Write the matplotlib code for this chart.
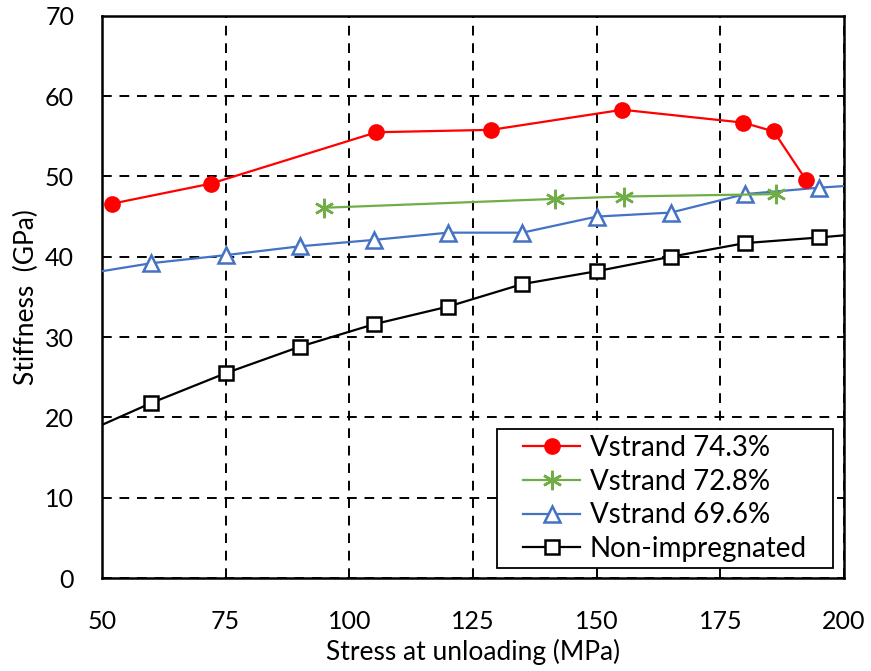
import matplotlib
matplotlib.use("Agg")
import matplotlib.pyplot as plt
from matplotlib.patches import Rectangle

plt.rcParams['font.family'] = ['Lato', 'DejaVu Sans']

# stress at unloading (MPa) / stiffness (GPa)
x_743 = [52, 72, 105.5, 128.7, 155.2, 179.6, 185.8, 192.4]
y_743 = [46.6, 49.1, 55.5, 55.8, 58.3, 56.7, 55.6, 49.5]

x_728 = [94.9, 141.5, 155.5, 186.2]
y_728 = [46.1, 47.2, 47.5, 47.8]

# first and last points lie outside the axis range (clipped)
x_696 = [45, 60, 75, 90, 105, 120, 135, 150, 165, 180, 195, 210]
y_696 = [37.7, 39.2, 40.2, 41.3, 42.1, 43.0, 43.0, 45.0, 45.5, 47.8, 48.6, 49.2]

x_non = [45, 60, 75, 90, 105, 120, 135, 150, 165, 180, 195, 210]
y_non = [17.7, 21.8, 25.5, 28.8, 31.6, 33.8, 36.6, 38.2, 40.0, 41.7, 42.4, 43.2]

xticks = [50, 75, 100, 125, 150, 175, 200]
yticks = [0, 10, 20, 30, 40, 50, 60, 70]

fig = plt.figure(figsize=(8.71, 6.71), dpi=100)
ax = fig.add_axes([0.117, 0.1385, 0.852, 0.838])

ax.plot(x_743, y_743, color='#FF0000', lw=1.6, marker='o', ms=11,
        mfc='#FF0000', mec='#FF0000', label='Vstrand 74.3%', zorder=5)
ax.plot(x_728, y_728, color='#70AD47', lw=1.6, marker=(6, 2, 0), ms=14,
        mew=1.8, mec='#70AD47', label='Vstrand 72.8%', zorder=4)
ax.plot(x_696, y_696, color='#4472C4', lw=1.6, marker='^', ms=11,
        mfc='white', mec='#4472C4', mew=1.8, label='Vstrand 69.6%', zorder=3)
ax.plot(x_non, y_non, color='black', lw=1.6, marker='s', ms=10,
        mfc='white', mec='black', mew=1.8, label='Non-impregnated', zorder=3)

ax.set_xlim(50, 200)
ax.set_ylim(0, 70)
ax.set_xticks(xticks)
ax.set_yticks(yticks)
ax.tick_params(axis='both', length=0, labelsize=18)
ax.tick_params(axis='x', pad=23)
ax.tick_params(axis='y', pad=20)

ax.grid(True, color='black', linestyle=(0, (5, 4)), lw=1.4)
ax.set_axisbelow(True)
for s in ax.spines.values():
    s.set_linewidth(1.8)
    s.set_color('black')

ax.set_xlabel('Stress at unloading (MPa)', fontsize=19, labelpad=4)
ax.set_ylabel('Stiffness  (GPa)', fontsize=19, labelpad=4)

# legend box drawn separately (wider side padding than top/bottom)
box = Rectangle((0.532, 0.018), 0.453, 0.247, transform=ax.transAxes,
                facecolor='white', edgecolor='black', lw=1.3, zorder=6)
ax.add_patch(box)
leg = ax.legend(loc='center', bbox_to_anchor=(0.759, 0.1415), fontsize=20,
                frameon=False, handlelength=2.05, labelspacing=0.28,
                borderpad=0, handletextpad=0.35)
leg.set_zorder(7)

fig.savefig('out.png', dpi=100)
